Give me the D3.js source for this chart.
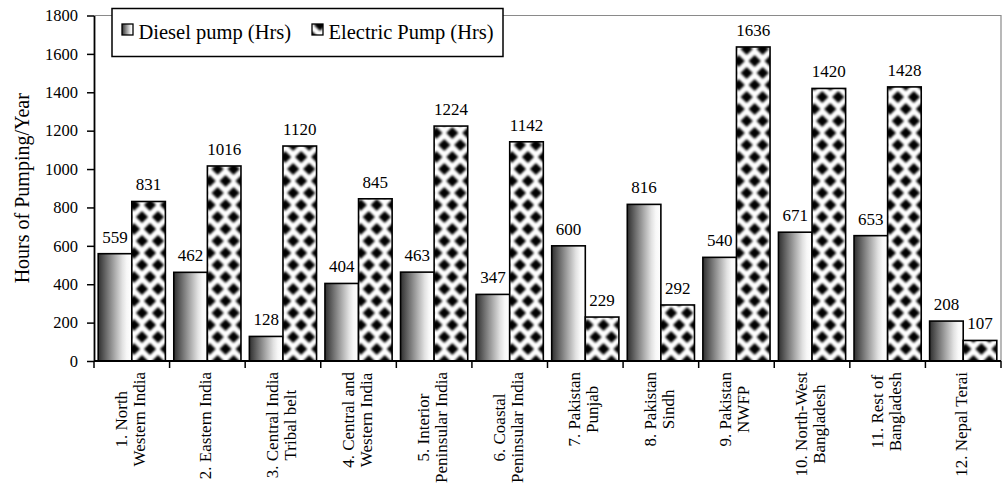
<!DOCTYPE html>
<html>
<head>
<meta charset="utf-8">
<script src="https://cdn.jsdelivr.net/npm/d3@7"></script>
<style>
  html, body { margin: 0; padding: 0; background: #fff; }
  svg { display: block; }
  svg text { font-family: "Liberation Serif", "Times New Roman", serif; }
</style>
</head>
<body>
<svg id="chart" width="1007" height="488"></svg>
<script>
// Annual pumping hours by region, diesel vs electric pumps
const regions = [
  ["1. North", "Western India"],
  ["2. Eastern India"],
  ["3. Central India", "Tribal belt"],
  ["4. Central and", "Western India"],
  ["5. Interior", "Peninsular India"],
  ["6. Coastal", "Peninsular India"],
  ["7. Pakistan", "Punjab"],
  ["8. Pakistan", "Sindh"],
  ["9. Pakistan", "NWFP"],
  ["10. North-West", "Bangladesh"],
  ["11. Rest of", "Bangladesh"],
  ["12. Nepal Terai"]
];
const dieselHours   = [559, 462, 128, 404, 463, 347, 600, 816, 540, 671, 653, 208];
const electricHours = [831, 1016, 1120, 845, 1224, 1142, 229, 292, 1636, 1420, 1428, 107];
const seriesNames = ["Diesel pump (Hrs)", "Electric Pump (Hrs)"];
const yTicks = [0, 200, 400, 600, 800, 1000, 1200, 1400, 1600, 1800];
const yTitle = "Hours of Pumping/Year";

const serif = "Liberation Serif, Times New Roman, serif";
const svg = d3.select("#chart");
const plotLeft = 94, plotRight = 1001, plotTop = 15.5, plotBottom = 361;

const keys = regions.map((r, i) => i);
const x = d3.scaleBand().domain(keys).range([plotLeft, plotRight]).paddingInner(0).paddingOuter(0);
const x1 = d3.scaleBand().domain([0, 1]).range([0, x.bandwidth()]).paddingInner(0).paddingOuter(0.125);
const y = d3.scaleLinear().domain([0, 1800]).range([plotBottom, plotTop]);

// fills: shaded gradient for diesel, diamond lattice for electric
const defs = svg.append("defs");
const grad = defs.append("linearGradient").attr("id", "dieselFill")
  .attr("x1", "0%").attr("x2", "100%").attr("y1", "0%").attr("y2", "0%");
[[0, "#2f2f2f"], [0.25, "#6e6e6e"], [0.5, "#acacac"], [0.72, "#e2e2e2"], [0.85, "#f8f8f8"], [1, "#ffffff"]]
  .forEach(([o, c]) => grad.append("stop").attr("offset", o).attr("stop-color", c));

const blur = defs.append("filter").attr("id", "soft").attr("x", "-20%").attr("y", "-20%").attr("width", "140%").attr("height", "140%");
blur.append("feGaussianBlur").attr("stdDeviation", 0.8);

const pw = 16, ph = 24, dr = 6.1;
const pat = defs.append("pattern").attr("id", "electricFill")
  .attr("patternUnits", "userSpaceOnUse").attr("width", pw).attr("height", ph)
  .attr("x", 0).attr("y", plotBottom);
pat.append("rect").attr("width", pw).attr("height", ph).attr("fill", "#fff");
const pg = pat.append("g").attr("filter", "url(#soft)");
[[0, 0], [pw, 0], [0, ph], [pw, ph], [pw / 2, ph / 2]].forEach(([cx, cy]) => {
  pg.append("path")
    .attr("d", `M${cx},${cy - dr}L${cx + dr},${cy}L${cx},${cy + dr}L${cx - dr},${cy}Z`)
    .attr("fill", "#000");
});

const fills = ["url(#dieselFill)", "url(#electricFill)"];
const series = [dieselHours, electricHours];

// plot frame (top and right)
svg.append("path")
  .attr("d", `M${plotLeft},${plotTop}H${plotRight}V${plotBottom}`)
  .attr("fill", "none").attr("stroke", "#8a8a8a").attr("stroke-width", 1.2);

// bars
const groups = svg.append("g").selectAll("g").data(keys).join("g")
  .attr("transform", d => `translate(${x(d)},0)`);
groups.selectAll("rect")
  .data(d => series.map((s, si) => ({ si, v: s[d] })))
  .join("rect")
  .attr("x", d => x1(d.si))
  .attr("y", d => y(d.v))
  .attr("width", x1.bandwidth())
  .attr("height", d => y(0) - y(d.v))
  .attr("fill", d => fills[d.si])
  .attr("stroke", "#000")
  .attr("stroke-width", 1.6);

// value labels
groups.selectAll("text.val")
  .data(d => series.map((s, si) => ({ si, v: s[d] })))
  .join("text").attr("class", "val")
  .attr("x", d => x1(d.si) + x1.bandwidth() / 2)
  .attr("y", d => y(d.v) - 11)
  .attr("text-anchor", "middle")
  .attr("font-family", serif)
  .attr("font-size", 17)
  .attr("fill", "#000")
  .text(d => d.v);

// y axis
const yAxis = svg.append("g").attr("transform", `translate(${plotLeft},0)`)
  .call(d3.axisLeft(y).tickValues(yTicks).tickFormat(d3.format("d"))
    .tickSize(7).tickSizeOuter(0).tickPadding(9));
yAxis.attr("font-family", serif);
yAxis.select(".domain").attr("stroke", "#000").attr("stroke-width", 1.8);
yAxis.selectAll(".tick line").attr("stroke", "#000").attr("stroke-width", 1.5);
yAxis.selectAll(".tick text")
  .attr("font-family", serif)
  .attr("font-size", 16.5).attr("fill", "#000");

// x axis line with ticks on category boundaries
const xAxis = svg.append("g");
xAxis.append("line").attr("x1", plotLeft).attr("x2", plotRight).attr("y1", plotBottom).attr("y2", plotBottom)
  .attr("stroke", "#000").attr("stroke-width", 1.8);
const bounds = keys.map(k => x(k)).concat([plotRight]);
xAxis.selectAll("line.tick").data(bounds).join("line").attr("class", "tick")
  .attr("x1", d => d).attr("x2", d => d).attr("y1", plotBottom).attr("y2", plotBottom + 7)
  .attr("stroke", "#000").attr("stroke-width", 1.5);

// rotated category labels
const labelTop = 372;
keys.forEach(k => {
  const lines = regions[k];
  const cx = x(k) + x.bandwidth() / 2;
  const g = svg.append("g").attr("transform", `translate(${cx},${labelTop}) rotate(-90)`);
  const texts = lines.map((t, i) => g.append("text")
    .attr("font-family", serif)
    .attr("font-size", 17).attr("fill", "#000")
    .attr("text-anchor", "middle")
    .attr("y", 4 - (lines.length - 1) * 9 + i * 18)
    .text(t));
  const maxLen = d3.max(texts, t => t.node().getComputedTextLength());
  texts.forEach(t => t.attr("x", -maxLen / 2));
});

// y axis title
svg.append("text")
  .attr("transform", `translate(29,${(plotTop + plotBottom) / 2}) rotate(-90)`)
  .attr("text-anchor", "middle")
  .attr("font-family", serif)
  .attr("font-size", 20).attr("fill", "#000")
  .text(yTitle);

// legend
const legend = svg.append("g");
legend.append("rect").attr("x", 112).attr("y", 8.5).attr("width", 391).attr("height", 48)
  .attr("fill", "#fff").attr("stroke", "#000").attr("stroke-width", 1.5);
const legendX = [122, 312];
seriesNames.forEach((name, i) => {
  legend.append("rect").attr("x", legendX[i]).attr("y", 24).attr("width", 11).attr("height", 11)
    .attr("fill", fills[i]).attr("stroke", "#000").attr("stroke-width", 1.3);
  legend.append("text").attr("x", legendX[i] + 16.5).attr("y", 38.5)
    .attr("font-family", serif)
    .attr("font-size", 20.5).attr("fill", "#000").text(name);
});
</script>
</body>
</html>
